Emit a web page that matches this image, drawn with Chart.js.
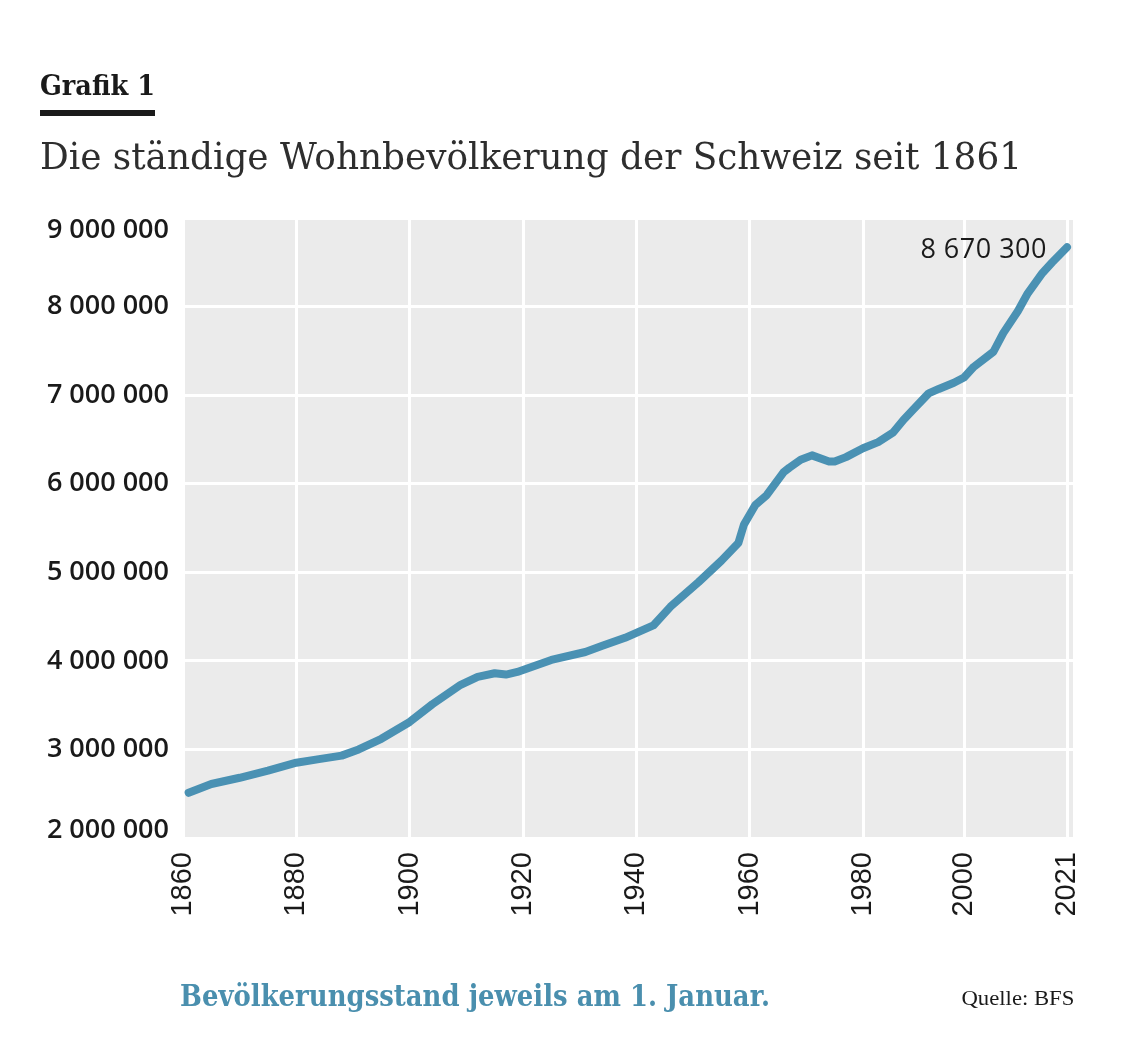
<!DOCTYPE html>
<html lang="de">
<head>
<meta charset="utf-8">
<title>Die ständige Wohnbevölkerung der Schweiz seit 1861</title>
<script src="https://cdn.jsdelivr.net/npm/chart.js@4.4.1/dist/chart.umd.min.js"></script>
<style>
  html, body { margin: 0; padding: 0; background: #fff; }
  #page { position: relative; width: 1146px; height: 1045px; overflow: hidden; }
  #chartBox { position: absolute; left: 0; top: 0; width: 1146px; height: 1045px; }
  .txt { position: absolute; white-space: nowrap; line-height: 1; width: max-content; }
  #kicker { left: 40px; top: 69px; font: bold 28px "DejaVu Serif"; color: #1a1a1a; transform-origin: left top; }
  #rule { position: absolute; left: 40px; top: 110px; width: 115px; height: 6px; background: #1a1a1a; }
  #title { left: 40px; top: 134px; font: 38px "DejaVu Serif"; color: #2e2e2e; transform-origin: left top; }
  #note { left: 180px; top: 978px; font: bold 30px "DejaVu Serif"; color: #4a8fae; transform-origin: left top; }
  #source { right: 72px; top: 985px; font: 22px "Liberation Serif"; color: #1a1a1a; transform-origin: right top; }
</style>
</head>
<body>
<div id="page">
  <div id="chartBox"><canvas id="chart"></canvas></div>
  <div class="txt" id="kicker">Grafik 1</div>
  <div id="rule"></div>
  <div class="txt" id="title">Die ständige Wohnbevölkerung der Schweiz seit 1861</div>
  <div class="txt" id="note">Bevölkerungsstand jeweils am 1. Januar.</div>
  <div class="txt" id="source">Quelle: BFS</div>
</div>
<script>
// values
const years = [1861, 1865, 1870, 1875, 1880, 1884, 1888, 1891, 1895, 1900,
  1904, 1909, 1912, 1915, 1917, 1919, 1925, 1931, 1934, 1938,
  1943, 1946, 1951, 1955, 1958, 1959, 1961, 1963, 1966, 1967,
  1969, 1971, 1974, 1975, 1977, 1980, 1983, 1986, 1988, 1990,
  1993, 1995, 1998, 2000, 2002, 2006, 2008, 2011, 2013, 2016,
  2018, 2021];
const population = [2510000, 2610000, 2680000, 2760000, 2850000, 2890000, 2930000, 3000000, 3120000, 3310000,
  3510000, 3730000, 3820000, 3860000, 3845000, 3875000, 4010000, 4100000, 4170000, 4260000,
  4400000, 4610000, 4890000, 5130000, 5330000, 5540000, 5760000, 5870000, 6130000, 6180000,
  6270000, 6320000, 6250000, 6250000, 6300000, 6400000, 6470000, 6580000, 6720000, 6840000,
  7020000, 7070000, 7140000, 7200000, 7320000, 7490000, 7700000, 7950000, 8150000, 8380000,
  8500000, 8670300];
const xTicks = [1860, 1880, 1900, 1920, 1940, 1960, 1980, 2000, 2021];
const yTicks = [2000000, 3000000, 4000000, 5000000, 6000000, 7000000, 8000000, 9000000];

const lineColor = '#4a91b3';
const inkColor = '#1a1a1a';

function groupDigits(v) {
  return String(Math.round(v)).replace(/\B(?=(\d{3})+(?!\d))/g, ' ');
}

// the year axis of the original is not evenly spaced: after 1980 the years are narrower
const yearBreaks = [1860, 1980, 2000, 2021, 2022.2];
const yearFractions = [0, 680 / 890, 781 / 890, 884 / 890, 1];

function yearToDecimal(v) {
  for (let i = 1; i < yearBreaks.length; i++) {
    if (v <= yearBreaks[i] || i === yearBreaks.length - 1) {
      const t = (v - yearBreaks[i - 1]) / (yearBreaks[i] - yearBreaks[i - 1]);
      return yearFractions[i - 1] + t * (yearFractions[i] - yearFractions[i - 1]);
    }
  }
  return 0;
}

function decimalToYear(d) {
  for (let i = 1; i < yearFractions.length; i++) {
    if (d <= yearFractions[i] || i === yearFractions.length - 1) {
      const t = (d - yearFractions[i - 1]) / (yearFractions[i] - yearFractions[i - 1]);
      return yearBreaks[i - 1] + t * (yearBreaks[i] - yearBreaks[i - 1]);
    }
  }
  return yearBreaks[0];
}

class YearScale extends Chart.LinearScale {
  getPixelForValue(value) {
    return this.getPixelForDecimal(yearToDecimal(value));
  }
  getValueForPixel(pixel) {
    return decimalToYear(this.getDecimalForPixel(pixel));
  }
}
YearScale.id = 'yearscale';
YearScale.defaults = {};
Chart.register(YearScale);

const panelPlugin = {
  id: 'panel',
  beforeDraw(chart) {
    const a = chart.chartArea;
    const ctx = chart.ctx;
    ctx.save();
    ctx.fillStyle = '#ebebeb';
    ctx.fillRect(a.left, a.top, a.right - a.left, a.bottom - a.top);
    ctx.restore();
  }
};

const labelPlugin = {
  id: 'labels',
  afterDraw(chart) {
    const ctx = chart.ctx;
    const a = chart.chartArea;
    const y = chart.scales.y;
    ctx.save();
    ctx.fillStyle = inkColor;
    ctx.font = '600 27px "Open Sans"';
    ctx.textAlign = 'right';
    ctx.textBaseline = 'middle';
    yTicks.forEach(v => {
      let py = y.getPixelForValue(v);
      py = Math.min(Math.max(py, a.top + 12), a.bottom - 8);
      ctx.fillText(groupDigits(v), 169, py);
    });

    const meta = chart.getDatasetMeta(0);
    const last = meta.data[meta.data.length - 1];
    ctx.font = '500 27px "Open Sans"';
    ctx.letterSpacing = '0.5px';
    ctx.fillText(groupDigits(population[population.length - 1]), last.x - 20, last.y + 3);
    ctx.restore();
  }
};

new Chart(document.getElementById('chart'), {
  type: 'line',
  data: {
    datasets: [{
      label: 'Ständige Wohnbevölkerung',
      data: years.map((yr, i) => ({ x: yr, y: population[i] })),
      borderColor: lineColor,
      borderWidth: 8,
      borderCapStyle: 'round',
      borderJoinStyle: 'round',
      pointRadius: 0,
      tension: 0,
      fill: false
    }]
  },
  options: {
    responsive: true,
    maintainAspectRatio: false,
    animation: false,
    events: [],
    layout: { padding: { top: 218, right: 73, bottom: 107, left: 0 } },
    plugins: {
      legend: { display: false },
      tooltip: { enabled: false },
      title: { display: false }
    },
    scales: {
      x: {
        type: 'yearscale',
        min: 1860,
        max: 2022.2,
        bounds: 'data',
        afterBuildTicks(scale) {
          scale.ticks = xTicks.map(v => ({ value: v }));
        },
        afterFit(scale) {
          scale.height = 100;
        },
        grid: { color: '#ffffff', lineWidth: 3, drawTicks: false },
        border: { display: false },
        ticks: {
          autoSkip: false,
          minRotation: 90,
          maxRotation: 90,
          padding: 14,
          color: inkColor,
          font: { family: '"Liberation Sans"', size: 29 },
          callback: v => String(v)
        }
      },
      y: {
        type: 'linear',
        min: 2000000,
        max: 9000000,
        afterBuildTicks(scale) {
          scale.ticks = yTicks.map(v => ({ value: v }));
        },
        afterFit(scale) {
          scale.width = 183;
        },
        grid: { color: '#ffffff', lineWidth: 3, drawTicks: false },
        border: { display: false },
        ticks: { display: false }
      }
    }
  },
  plugins: [panelPlugin, labelPlugin]
});

// squeeze the serif headings to the widths used in the reference
function fitWidth(id, target) {
  const el = document.getElementById(id);
  const w = el.getBoundingClientRect().width;
  el.style.transform = 'scaleX(' + (target / w) + ')';
}
fitWidth('kicker', 115);
fitWidth('title', 982);
fitWidth('note', 590);
fitWidth('source', 113);
</script>
</body>
</html>
